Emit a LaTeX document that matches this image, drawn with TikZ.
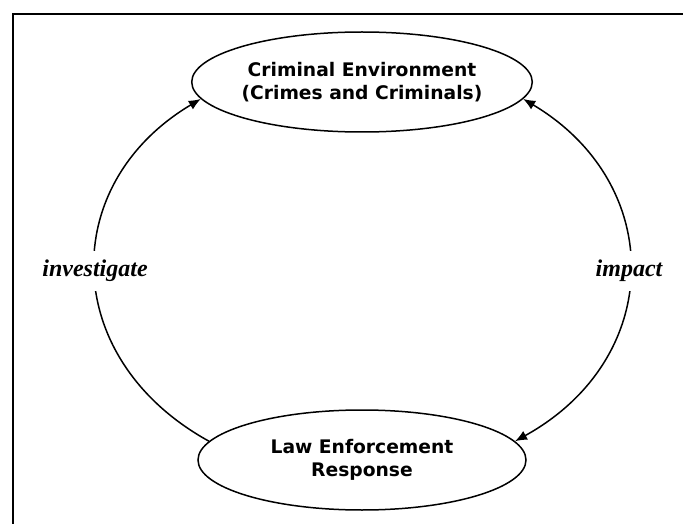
\documentclass[tikz,border=0pt]{standalone}
\usepackage{fontspec}
\setmainfont{DejaVu Sans}
\newfontfamily\lblfont{Liberation Serif}
\usetikzlibrary{shapes.geometric,arrows.meta}
\tikzset{
  oval/.style={draw, ellipse, line width=1.5pt, minimum width=328pt, minimum height=100pt, inner sep=0pt, align=center, font=\fontsize{18.7}{23.5}\selectfont\bfseries},
  conn/.style={line width=1.5pt},
  tip/.style={-{Latex[length=12pt,width=10pt]}},
  lbl/.style={fill=white, inner xsep=2pt, inner ysep=9pt, font=\lblfont\fontsize{24}{28}\selectfont\bfseries\itshape},
  frame/.style={line width=1.6pt}
}
\begin{document}
\begin{tikzpicture}[x=1pt,y=1pt]
\useasboundingbox (0,0) rectangle (683,523);
\coordinate (fb) at (13,-20);
\coordinate (fc) at (13,509);
\coordinate (fr) at (720,509);
\draw[frame] (fb) -- (fc) -- (fr);
\node[oval] (top) at (362,441) {Criminal Environment\\(Crimes and Criminals)};
\node[oval] (bot) at (362,63) {Law Enforcement\\Response};
\draw[conn,tip] (bot.173) .. controls (59.4,164.3) and (57.4,338.7) .. node[lbl, pos=0.5] (inv) {investigate} (top.186.6);
\draw[conn,{Latex[length=12pt,width=10pt]}-{Latex[length=12pt,width=10pt]}] (top.354.2) .. controls (666.6,338.7) and (664.6,164.3) .. node[lbl, pos=0.5] (imp) {impact} (bot.7);
\end{tikzpicture}
\end{document}
